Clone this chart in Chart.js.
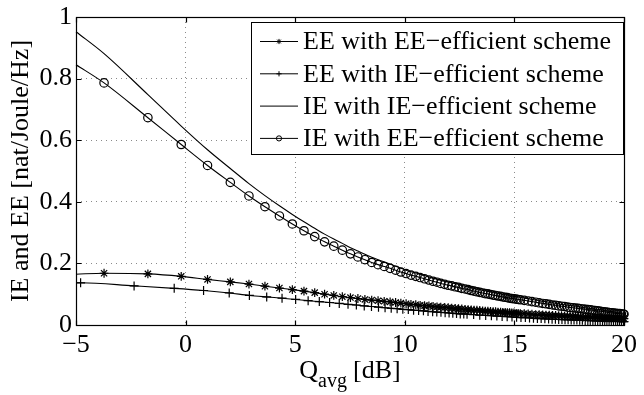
<!DOCTYPE html>
<html>
<head>
<meta charset="utf-8">
<script src="https://cdn.jsdelivr.net/npm/chart.js@4.4.1/dist/chart.umd.min.js"></script>
<style>
  html, body { margin: 0; padding: 0; background: #fff; }
  #wrap { position: relative; width: 644px; height: 395px; }
</style>
</head>
<body>
<div id="wrap"><canvas id="chartEficiencia"></canvas></div>
<script>
// Valores (Q_avg em dB)
const qdbA = [
  -5, -3.72, -1.72, -0.2, 1.0, 2.04, 2.89, 3.62, 4.28, 4.87,
  5.40, 5.89, 6.34, 6.76, 7.15, 7.52, 7.86, 8.18, 8.49, 8.78,
  9.06, 9.33, 9.58, 9.82, 10.06, 10.28, 10.50, 10.70, 10.90, 11.10,
  11.29, 11.47, 11.64, 11.82, 11.98, 12.14, 12.30, 12.45, 12.60, 12.75,
  12.89, 13.03, 13.16, 13.29, 13.42, 13.55, 13.67, 13.79, 13.91, 14.03,
  14.14, 14.25, 14.37, 14.47, 14.58, 14.68, 14.78, 14.88, 14.98, 15.08,
  15.17, 15.27, 15.45, 15.63, 15.80, 15.97, 16.13, 16.29, 16.44, 16.59,
  16.74, 16.88, 17.02, 17.15, 17.29, 17.42, 17.54, 17.67, 17.79, 17.91,
  18.02, 18.14, 18.25, 18.36, 18.47, 18.57, 18.68, 18.78, 18.88, 18.98,
  19.08, 19.17, 19.27, 19.36, 19.45, 19.54, 19.63, 19.71, 19.80, 19.88,
  19.97, 20
];
const qdbB = [
  -5, -4.79, -2.35, -0.52, 0.82, 1.99, 2.91, 3.70, 4.40, 5.02,
  5.59, 6.10, 6.57, 7.01, 7.41, 7.79, 8.15, 8.48, 8.80, 9.10,
  9.38, 9.65, 9.91, 10.16, 10.40, 10.63, 10.85, 11.06, 11.27, 11.46,
  11.65, 11.84, 12.02, 12.19, 12.36, 12.53, 12.69, 12.84, 13.14, 13.42,
  13.69, 13.95, 14.20, 14.44, 14.67, 14.89, 15.10, 15.30, 15.50, 15.69,
  15.87, 16.05, 16.22, 16.39, 16.56, 16.72, 16.87, 17.02, 17.17, 17.31,
  17.45, 17.59, 17.72, 17.85, 17.98, 18.10, 18.23, 18.35, 18.46, 18.58,
  18.69, 18.80, 18.91, 19.02, 19.12, 19.22, 19.32, 19.42, 19.52, 19.62,
  19.71, 19.80, 19.89, 19.98, 20
];

// EE with EE-efficient scheme (*) - sobre qdbA
const eeComEE = [
  0.165, 0.168, 0.166, 0.158, 0.148, 0.140, 0.133, 0.126, 0.120, 0.115,
  0.110, 0.105, 0.100, 0.096, 0.092, 0.089, 0.086, 0.083, 0.081, 0.079,
  0.077, 0.075, 0.073, 0.071, 0.069, 0.067, 0.066, 0.064, 0.063, 0.062,
  0.060, 0.059, 0.058, 0.057, 0.056, 0.055, 0.054, 0.053, 0.052, 0.051,
  0.050, 0.049, 0.048, 0.048, 0.047, 0.046, 0.045, 0.045, 0.044, 0.043,
  0.043, 0.042, 0.042, 0.041, 0.041, 0.040, 0.040, 0.039, 0.039, 0.038,
  0.038, 0.037, 0.037, 0.036, 0.035, 0.034, 0.034, 0.033, 0.032, 0.032,
  0.031, 0.031, 0.030, 0.030, 0.029, 0.029, 0.029, 0.028, 0.028, 0.027,
  0.027, 0.026, 0.026, 0.026, 0.025, 0.025, 0.025, 0.024, 0.024, 0.024,
  0.023, 0.023, 0.023, 0.022, 0.022, 0.022, 0.022, 0.021, 0.021, 0.021,
  0.021, 0.021
];
// EE with IE-efficient scheme (+) - sobre qdbB
const eeComIE = [
  0.137, 0.137, 0.127, 0.119, 0.112, 0.104, 0.096, 0.091, 0.087, 0.083,
  0.079, 0.076, 0.073, 0.070, 0.067, 0.065, 0.062, 0.060, 0.058, 0.056,
  0.054, 0.053, 0.051, 0.050, 0.048, 0.047, 0.046, 0.044, 0.043, 0.042,
  0.041, 0.040, 0.039, 0.038, 0.037, 0.036, 0.036, 0.035, 0.034, 0.032,
  0.031, 0.030, 0.029, 0.028, 0.027, 0.026, 0.025, 0.024, 0.024, 0.023,
  0.022, 0.021, 0.021, 0.020, 0.0195, 0.019, 0.0185, 0.018, 0.0177, 0.0173,
  0.017, 0.0166, 0.0162, 0.016, 0.0156, 0.0153, 0.015, 0.0147, 0.0144, 0.0141,
  0.0138, 0.0135, 0.0133, 0.013, 0.0128, 0.0126, 0.0123, 0.0121, 0.0119, 0.0117,
  0.0115, 0.0113, 0.0111, 0.011, 0.011
];
// IE with IE-efficient scheme (linha) - sobre qdbA
const ieComIE = [
  0.952, 0.881, 0.748, 0.646, 0.569, 0.508, 0.459, 0.420, 0.387, 0.359,
  0.335, 0.314, 0.295, 0.279, 0.265, 0.251, 0.240, 0.230, 0.220, 0.212,
  0.205, 0.198, 0.191, 0.184, 0.178, 0.173, 0.169, 0.165, 0.161, 0.156,
  0.152, 0.149, 0.145, 0.142, 0.139, 0.137, 0.134, 0.132, 0.128, 0.126,
  0.124, 0.121, 0.119, 0.117, 0.115, 0.113, 0.111, 0.110, 0.108, 0.105,
  0.104, 0.102, 0.101, 0.099, 0.098, 0.097, 0.095, 0.094, 0.093, 0.092,
  0.091, 0.090, 0.088, 0.085, 0.083, 0.081, 0.079, 0.077, 0.076, 0.074,
  0.072, 0.071, 0.068, 0.067, 0.066, 0.064, 0.063, 0.062, 0.061, 0.060,
  0.058, 0.057, 0.056, 0.055, 0.054, 0.053, 0.052, 0.051, 0.050, 0.049,
  0.047, 0.046, 0.045, 0.044, 0.044, 0.043, 0.041, 0.040, 0.040, 0.039,
  0.038, 0.038
];
// IE with EE-efficient scheme (o) - sobre qdbA
const ieComEE = [
  0.845, 0.786, 0.673, 0.586, 0.518, 0.463, 0.419, 0.384, 0.354, 0.328,
  0.306, 0.287, 0.270, 0.256, 0.243, 0.231, 0.221, 0.212, 0.203, 0.196,
  0.190, 0.184, 0.178, 0.172, 0.167, 0.162, 0.158, 0.154, 0.150, 0.146,
  0.142, 0.139, 0.135, 0.132, 0.129, 0.127, 0.124, 0.122, 0.119, 0.117,
  0.115, 0.112, 0.110, 0.108, 0.106, 0.104, 0.102, 0.101, 0.099, 0.097,
  0.096, 0.094, 0.093, 0.091, 0.090, 0.089, 0.087, 0.086, 0.085, 0.084,
  0.083, 0.082, 0.080, 0.078, 0.076, 0.074, 0.072, 0.070, 0.069, 0.067,
  0.065, 0.064, 0.062, 0.061, 0.060, 0.058, 0.057, 0.056, 0.055, 0.054,
  0.053, 0.052, 0.051, 0.050, 0.049, 0.048, 0.047, 0.046, 0.045, 0.044,
  0.043, 0.042, 0.041, 0.040, 0.040, 0.039, 0.038, 0.037, 0.037, 0.036,
  0.035, 0.035
];

const nomesSeries = [
  'EE with EE\u2212efficient scheme',
  'EE with IE\u2212efficient scheme',
  'IE with IE\u2212efficient scheme',
  'IE with EE\u2212efficient scheme'
];
const ticksX = [-5, 0, 5, 10, 15, 20];
const rotulosX = ['\u22125', '0', '5', '10', '15', '20'];
const ticksY = [0, 0.2, 0.4, 0.6, 0.8, 1];
const rotulosY = ['0', '0.2', '0.4', '0.6', '0.8', '1'];
const tituloY = 'IE and EE [nat/Joule/Hz]';

const FONTE = 'Liberation Serif, Times New Roman, serif';

function pares(xs, ys) {
  return xs.map((x, i) => ({ x: x, y: ys[i] }));
}

// primeiro ponto (Q = -5 dB) só abre a linha, sem marcador
function raio(r) {
  return ctx => (ctx.dataIndex === 0 ? 0 : r);
}

const base = {
  borderColor: '#000',
  borderWidth: 1.1,
  pointBorderColor: '#000',
  pointBackgroundColor: 'rgba(0,0,0,0)',
  pointBorderWidth: 1.2,
  pointHoverRadius: 0,
  cubicInterpolationMode: 'monotone',
  fill: false,
  clip: false
};

// Moldura estilo MATLAB, título do eixo x com subscrito e legenda
const molduraMatlab = {
  id: 'molduraMatlab',
  afterDraw(chart) {
    const { ctx, chartArea: a, scales } = chart;
    const L = Math.round(a.left) + 0.5, R = Math.round(a.right) + 0.5;
    const T = Math.round(a.top) + 0.5, B = Math.round(a.bottom) + 0.5;
    ctx.save();
    ctx.strokeStyle = '#000';
    ctx.lineWidth = 1.2;
    ctx.strokeRect(L, T, R - L, B - T);

    ctx.beginPath();
    ticksX.forEach(v => {
      const px = Math.round(scales.x.getPixelForValue(v)) + 0.5;
      ctx.moveTo(px, B); ctx.lineTo(px, B - 5);
      ctx.moveTo(px, T); ctx.lineTo(px, T + 5);
    });
    ticksY.forEach(v => {
      const py = Math.round(scales.y.getPixelForValue(v)) + 0.5;
      ctx.moveTo(L, py); ctx.lineTo(L + 5, py);
      ctx.moveTo(R, py); ctx.lineTo(R - 5, py);
    });
    ctx.stroke();

    // Q_avg [dB]
    ctx.fillStyle = '#000';
    ctx.textBaseline = 'alphabetic';
    ctx.textAlign = 'left';
    ctx.font = '26px ' + FONTE;
    const wQ = ctx.measureText('Q').width;
    const wDB = ctx.measureText('[dB]').width;
    ctx.font = '20px ' + FONTE;
    const wSub = ctx.measureText('avg').width;
    const espaco = 6;
    const x0 = (a.left + a.right) / 2 - (wQ + wSub + espaco + wDB) / 2;
    ctx.font = '26px ' + FONTE;
    ctx.fillText('Q', x0, 378);
    ctx.font = '20px ' + FONTE;
    ctx.fillText('avg', x0 + wQ, 387);
    ctx.font = '26px ' + FONTE;
    ctx.fillText('[dB]', x0 + wQ + wSub + espaco, 378);

    // legenda
    const lx = 251.5, ly = 22.5, lw = 372, lh = 132;
    ctx.lineWidth = 1;
    ctx.fillStyle = '#fff';
    ctx.fillRect(lx, ly, lw, lh);
    ctx.strokeRect(lx, ly, lw, lh);
    chart.data.datasets.forEach((ds, i) => {
      const cy = 41.5 + i * 32.3;
      ctx.strokeStyle = '#000';
      ctx.lineWidth = 1;
      ctx.beginPath();
      ctx.moveTo(260, cy); ctx.lineTo(298, cy);
      ctx.stroke();
      if (ds.pointStyle) {
        ctx.fillStyle = 'rgba(0,0,0,0)';
        Chart.helpers.drawPoint(ctx, {
          pointStyle: ds.pointStyle, radius: 2.6, rotation: 0, borderWidth: 1
        }, 279, cy);
      }
      ctx.fillStyle = '#000';
      ctx.font = '26px ' + FONTE;
      ctx.textBaseline = 'middle';
      ctx.fillText(ds.label, 303, cy + 1);
    });
    ctx.restore();
  }
};

const ctxGrafico = document.getElementById('chartEficiencia');

new Chart(ctxGrafico, {
  type: 'line',
  data: {
    datasets: [
      Object.assign({}, base, {
        label: nomesSeries[0],
        data: pares(qdbA, eeComEE),
        pointStyle: 'star',
        pointRadius: raio(4.4)
      }),
      Object.assign({}, base, {
        label: nomesSeries[1],
        data: pares(qdbB, eeComIE),
        pointStyle: 'cross',
        pointRadius: raio(4.5)
      }),
      Object.assign({}, base, {
        label: nomesSeries[2],
        data: pares(qdbA, ieComIE),
        pointStyle: false,
        pointRadius: 0
      }),
      Object.assign({}, base, {
        label: nomesSeries[3],
        data: pares(qdbA, ieComEE),
        pointStyle: 'circle',
        pointRadius: raio(4.2)
      })
    ]
  },
  options: {
    responsive: true,
    maintainAspectRatio: false,
    animation: false,
    devicePixelRatio: 1,
    layout: { padding: { left: 0, right: 12, top: 14, bottom: 0 } },
    plugins: {
      legend: { display: false },
      tooltip: { enabled: false }
    },
    scales: {
      x: {
        type: 'linear',
        min: -5,
        max: 20,
        afterBuildTicks: s => { s.ticks = ticksX.map(v => ({ value: v })); },
        afterFit: s => { s.height = 70; },
        ticks: {
          color: '#000',
          padding: 7,
          maxRotation: 0,
          font: { family: FONTE, size: 26, lineHeight: 1 },
          callback: v => rotulosX[ticksX.indexOf(v)]
        },
        grid: { color: '#8a8a8a', lineWidth: 1, drawTicks: false },
        border: { display: false, dash: [1, 4] }
      },
      y: {
        type: 'linear',
        min: 0,
        max: 1,
        afterBuildTicks: s => { s.ticks = ticksY.map(v => ({ value: v })); },
        afterFit: s => { s.width = 76; },
        ticks: {
          color: '#000',
          padding: 4,
          font: { family: FONTE, size: 26, lineHeight: 1 },
          callback: v => rotulosY[ticksY.indexOf(v)]
        },
        title: {
          display: true,
          text: tituloY,
          color: '#000',
          font: { family: FONTE, size: 26 },
          padding: { top: 6, bottom: 0 }
        },
        grid: { color: '#8a8a8a', lineWidth: 1, drawTicks: false },
        border: { display: false, dash: [1, 4] }
      }
    }
  },
  plugins: [molduraMatlab]
});
</script>
</body>
</html>
